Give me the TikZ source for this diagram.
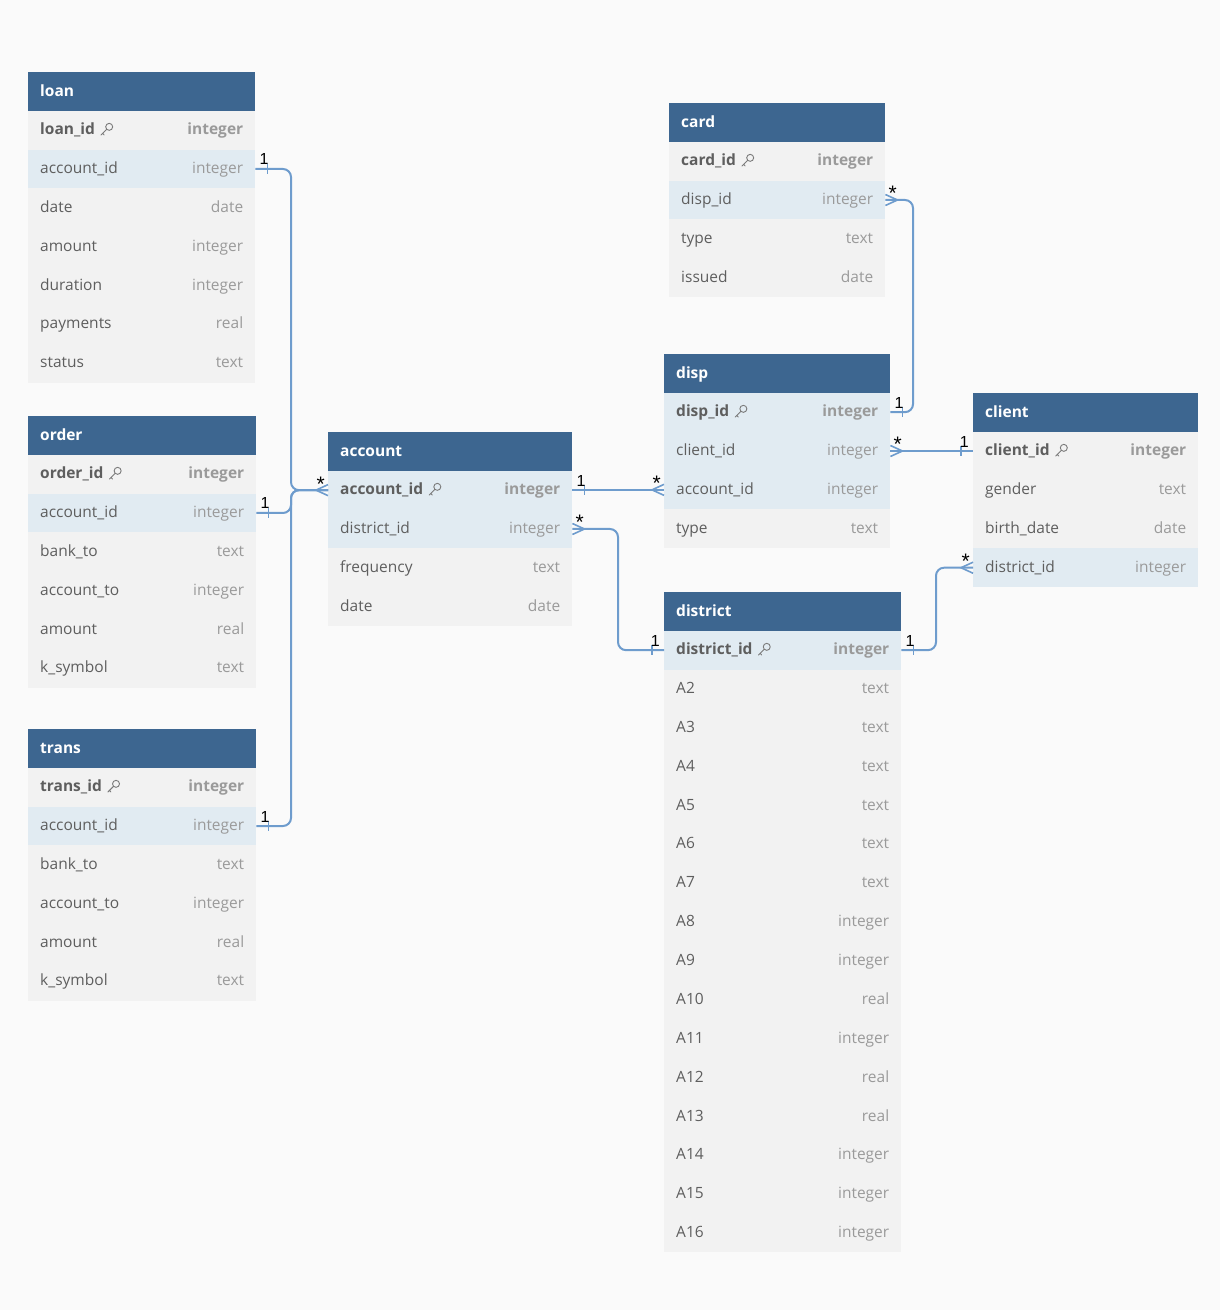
\documentclass[tikz,border=0pt]{standalone}
\usepackage{fontspec}
\setmainfont{Open Sans}
\newfontfamily\lblfont{Liberation Sans}
\definecolor{bgc}{HTML}{FAFAFA}
\definecolor{hdrc}{HTML}{3D6690}
\definecolor{rowg}{HTML}{F2F2F2}
\definecolor{rowb}{HTML}{E1EBF2}
\definecolor{namec}{HTML}{5E5E5E}
\definecolor{typec}{HTML}{9A9A9A}
\definecolor{connc}{HTML}{6E9CCD}
\definecolor{keyc}{HTML}{7A7A7A}
\tikzset{
  hdr/.style={fill=hdrc, minimum height=38.5pt, inner sep=0pt, draw=none},
  hdrtxt/.style={anchor=west, text=white, font=\fontsize{15.5}{18}\selectfont\bfseries, inner sep=0pt, text height=10.7pt, text depth=0pt},
  rowbox/.style={minimum height=38.86pt, inner sep=0pt, draw=none},
  nametxt/.style={anchor=west, text=namec, inner sep=0pt, font=\fontsize{15.5}{18}\selectfont, text height=10.7pt, text depth=0pt},
  typetxt/.style={anchor=east, text=typec, inner sep=0pt, font=\fontsize{15.5}{18}\selectfont, text height=10.7pt, text depth=0pt},
  pl/.style={fill=rowg}, hl/.style={fill=rowb},
  conn/.style={draw=connc, line width=2pt, rounded corners=8pt},
  endl/.style={draw=connc, line width=1.6pt},
  lbl/.style={inner sep=0pt, font=\lblfont\fontsize{16}{18}\selectfont, text=black},
  starlbl/.style={inner sep=0pt, font=\lblfont\fontsize{21}{22}\selectfont, text=black},
  keyic/.pic={
    \draw[keyc, line width=0.9pt] (9,-2.5) circle (3.5pt);
    \draw[keyc, line width=0.9pt, line cap=round] (6.5,0) -- (0.8,5.7) (2.4,4.1) -- (3.9,5.6);
  }
}
% #1 id, #2 x, #3 y top, #4 width, #5 title
\newcommand\erdhead[5]{%
  \def\tx{#2}\def\ty{#3}\def\tw{#4}%
  \node[hdr, minimum width=#4pt, anchor=north west] (#1) at (#2,#3) {};
  \node[hdrtxt] (#1-t) at ([xshift=12pt]#1.west) {#5};
}
% #1 id, #2 index, #3 fill style, #4 name, #5 type, #6 key flag
\newcommand\erdrow[6]{%
  \pgfmathsetmacro\ry{\ty+38.5+(#2-1)*38.86}%
  \node[rowbox, #3, minimum width=\tw pt, anchor=north west] (#1-#2) at (\tx,\ry) {};
  \node[nametxt] (#1-#2-n) at ([xshift=12pt,yshift=0.8pt]#1-#2.west) {\ifnum#6=1 \bfseries\fi #4};
  \node[typetxt] (#1-#2-y) at ([xshift=-12pt,yshift=0.8pt]#1-#2.east) {\ifnum#6=1 \bfseries\fi #5};
  \ifnum#6=1 \pic at ([xshift=5pt]#1-#2-n.east) {keyic};\fi
}
\newcommand\oneR[1]{%
  \draw[endl] ([xshift=12pt,yshift=5pt]#1.east) -- ([xshift=12pt,yshift=-5pt]#1.east);
  \node[lbl, anchor=base west] at ([xshift=4pt,yshift=4pt]#1.east) {1};}
\newcommand\oneL[1]{%
  \draw[endl] ([xshift=-12pt,yshift=5pt]#1.west) -- ([xshift=-12pt,yshift=-5pt]#1.west);
  \node[lbl, anchor=base east] at ([xshift=-4pt,yshift=4pt]#1.west) {1};}
\newcommand\manyR[1]{%
  \draw[endl] ([yshift=5.5pt]#1.east) -- ([xshift=12pt]#1.east) -- ([yshift=-5.5pt]#1.east);
  \node[starlbl, anchor=base west] at ([xshift=3pt,yshift=-1pt]#1.east) {*};}
\newcommand\manyL[1]{%
  \draw[endl] ([yshift=5.5pt]#1.west) -- ([xshift=-12pt]#1.west) -- ([yshift=-5.5pt]#1.west);
  \node[starlbl, anchor=base east] at ([xshift=-3pt,yshift=-1pt]#1.west) {*};}

\begin{document}
\begin{tikzpicture}[x=1pt,y=-1pt]
\fill[bgc] (0,0) rectangle (1220,1310);
\useasboundingbox (0,0) rectangle (1220,1310);

% loan
\erdhead{loan}{28}{72}{227}{loan}
\erdrow{loan}{1}{pl}{loan\_id}{integer}{1}
\erdrow{loan}{2}{hl}{account\_id}{integer}{0}
\erdrow{loan}{3}{pl}{date}{date}{0}
\erdrow{loan}{4}{pl}{amount}{integer}{0}
\erdrow{loan}{5}{pl}{duration}{integer}{0}
\erdrow{loan}{6}{pl}{payments}{real}{0}
\erdrow{loan}{7}{pl}{status}{text}{0}

% order
\erdhead{order}{28}{416}{228}{order}
\erdrow{order}{1}{pl}{order\_id}{integer}{1}
\erdrow{order}{2}{hl}{account\_id}{integer}{0}
\erdrow{order}{3}{pl}{bank\_to}{text}{0}
\erdrow{order}{4}{pl}{account\_to}{integer}{0}
\erdrow{order}{5}{pl}{amount}{real}{0}
\erdrow{order}{6}{pl}{k\_symbol}{text}{0}

% trans
\erdhead{trans}{28}{729}{228}{trans}
\erdrow{trans}{1}{pl}{trans\_id}{integer}{1}
\erdrow{trans}{2}{hl}{account\_id}{integer}{0}
\erdrow{trans}{3}{pl}{bank\_to}{text}{0}
\erdrow{trans}{4}{pl}{account\_to}{integer}{0}
\erdrow{trans}{5}{pl}{amount}{real}{0}
\erdrow{trans}{6}{pl}{k\_symbol}{text}{0}

% account
\erdhead{account}{328}{432}{244}{account}
\erdrow{account}{1}{hl}{account\_id}{integer}{1}
\erdrow{account}{2}{hl}{district\_id}{integer}{0}
\erdrow{account}{3}{pl}{frequency}{text}{0}
\erdrow{account}{4}{pl}{date}{date}{0}

% card
\erdhead{card}{669}{103}{216}{card}
\erdrow{card}{1}{pl}{card\_id}{integer}{1}
\erdrow{card}{2}{hl}{disp\_id}{integer}{0}
\erdrow{card}{3}{pl}{type}{text}{0}
\erdrow{card}{4}{pl}{issued}{date}{0}

% disp
\erdhead{disp}{664}{354}{226}{disp}
\erdrow{disp}{1}{hl}{disp\_id}{integer}{1}
\erdrow{disp}{2}{hl}{client\_id}{integer}{0}
\erdrow{disp}{3}{hl}{account\_id}{integer}{0}
\erdrow{disp}{4}{pl}{type}{text}{0}

% client
\erdhead{client}{973}{393}{225}{client}
\erdrow{client}{1}{pl}{client\_id}{integer}{1}
\erdrow{client}{2}{pl}{gender}{text}{0}
\erdrow{client}{3}{pl}{birth\_date}{date}{0}
\erdrow{client}{4}{hl}{district\_id}{integer}{0}

% district
\erdhead{district}{664}{592}{237}{district}
\erdrow{district}{1}{hl}{district\_id}{integer}{1}
\erdrow{district}{2}{pl}{A2}{text}{0}
\erdrow{district}{3}{pl}{A3}{text}{0}
\erdrow{district}{4}{pl}{A4}{text}{0}
\erdrow{district}{5}{pl}{A5}{text}{0}
\erdrow{district}{6}{pl}{A6}{text}{0}
\erdrow{district}{7}{pl}{A7}{text}{0}
\erdrow{district}{8}{pl}{A8}{integer}{0}
\erdrow{district}{9}{pl}{A9}{integer}{0}
\erdrow{district}{10}{pl}{A10}{real}{0}
\erdrow{district}{11}{pl}{A11}{integer}{0}
\erdrow{district}{12}{pl}{A12}{real}{0}
\erdrow{district}{13}{pl}{A13}{real}{0}
\erdrow{district}{14}{pl}{A14}{integer}{0}
\erdrow{district}{15}{pl}{A15}{integer}{0}
\erdrow{district}{16}{pl}{A16}{integer}{0}

% bus coordinates
\coordinate (busA) at (291,0);
\coordinate (busB) at (618,0);
\coordinate (busC) at (913,0);
\coordinate (busD) at (936,0);

% connectors
\draw[conn] (loan-2.east) -| (busA |- account-1.west) -- (account-1.west);
\draw[conn] (order-2.east) -| (busA |- account-1.west) -- (account-1.west);
\draw[conn] (trans-2.east) -| (busA |- account-1.west) -- (account-1.west);
\oneR{loan-2}\oneR{order-2}\oneR{trans-2}\manyL{account-1}

\draw[conn] (account-1.east) -- (account-1.east -| disp-3.west);
\oneR{account-1}\manyL{disp-3}

\draw[conn] (account-2.east) -| (busB |- district-1.west) -- (district-1.west);
\manyR{account-2}\oneL{district-1}

\draw[conn] (card-2.east) -| (busC |- disp-1.east) -- (disp-1.east);
\manyR{card-2}\oneR{disp-1}

\draw[conn] (disp-2.east) -- (disp-2.east -| client-1.west);
\manyR{disp-2}\oneL{client-1}

\draw[conn] (district-1.east) -| (busD |- client-4.west) -- (client-4.west);
\oneR{district-1}\manyL{client-4}
\end{tikzpicture}
\end{document}
